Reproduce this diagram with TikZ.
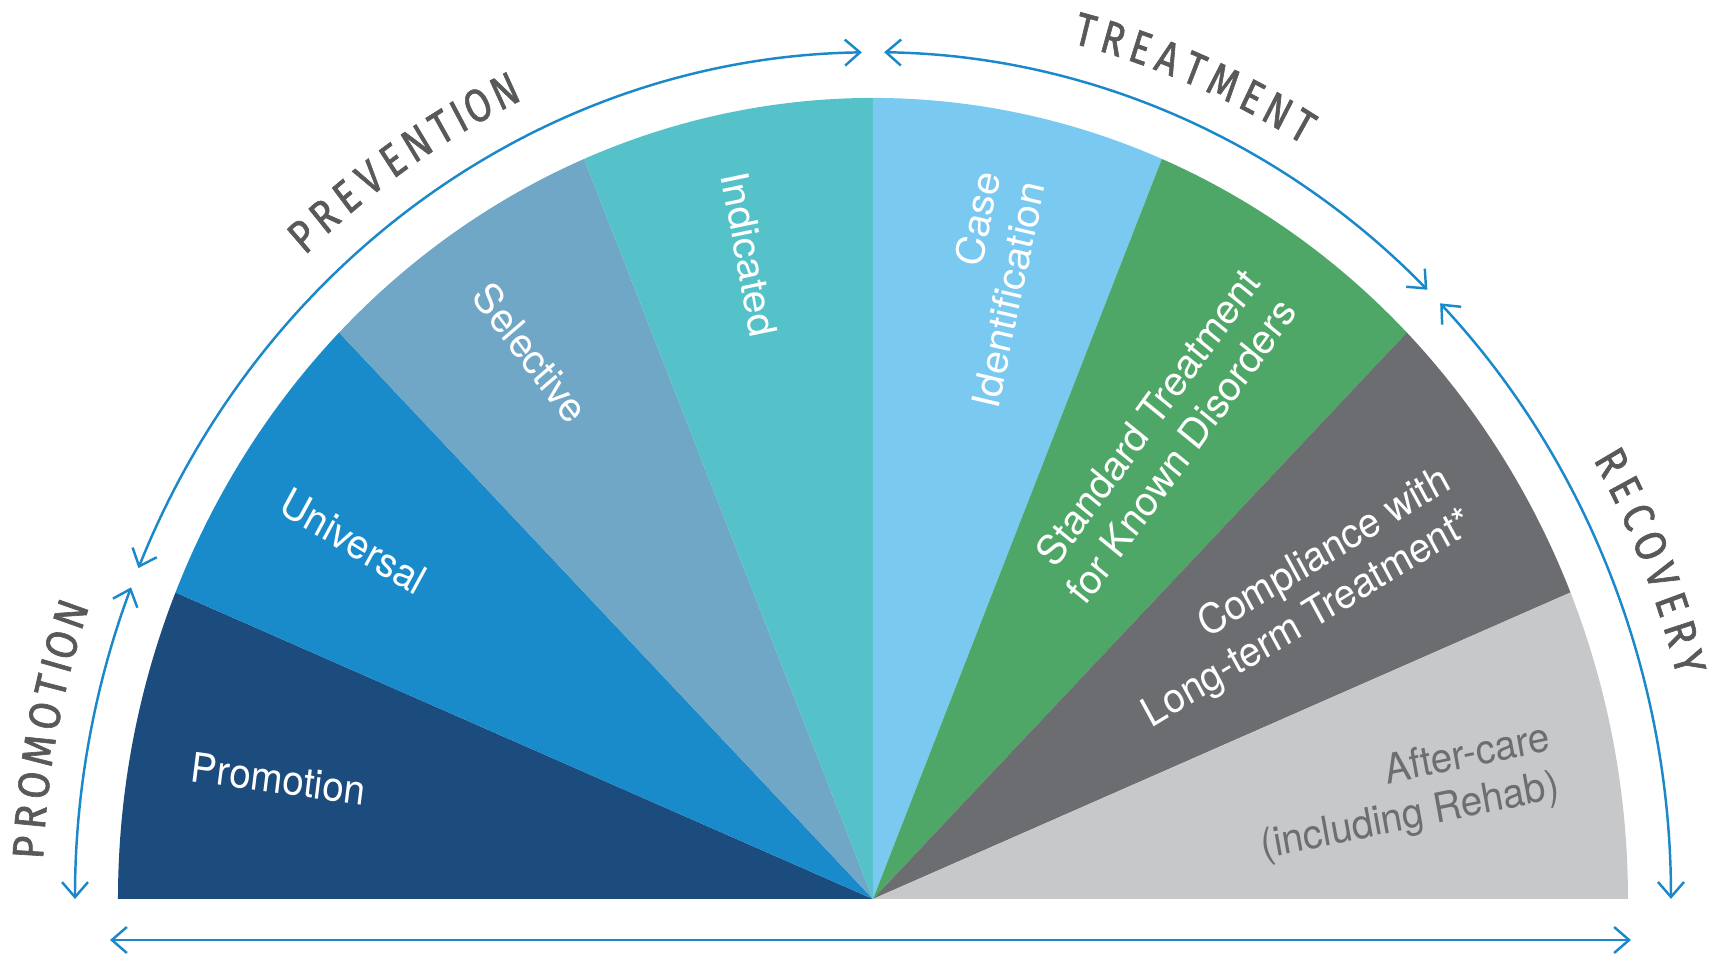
\documentclass[tikz,border=0pt]{standalone}
\usepackage{fontspec}
\setmainfont{TeX Gyre Heros}
\newfontfamily\capsfont[FakeStretch=0.85, FakeBold=1.4]{Fira Sans}
\usetikzlibrary{arrows.meta}
\definecolor{promoblue}{HTML}{1C4B7D}
\definecolor{univblue}{HTML}{1A8BCA}
\definecolor{selblue}{HTML}{70A7C6}
\definecolor{indteal}{HTML}{55C2CA}
\definecolor{caseblue}{HTML}{79C9F1}
\definecolor{stdgreen}{HTML}{4FA767}
\definecolor{compgray}{HTML}{6C6D70}
\definecolor{aftergray}{HTML}{C7C8CA}
\definecolor{aftertext}{HTML}{6D6E71}
\definecolor{arrowblue}{HTML}{1B88C9}
\definecolor{labelgray}{HTML}{58595B}
\tikzset{
    wedgetext/.style={font=\fontsize{11}{13}\selectfont, text=white, align=right, inner sep=0pt, transform shape},
    captext/.style={font=\capsfont\fontsize{12.5}{12.5}\selectfont, text=labelgray, inner sep=0pt, transform shape},
    bluearrow/.style={draw=arrowblue, line width=0.7pt, {Straight Barb[length=1.5mm,width=2.6mm]}-{Straight Barb[length=1.5mm,width=2.6mm]}}
}
\begin{document}
\begin{tikzpicture}[yscale=1.061]
        \useasboundingbox (-8.73,-0.5278) rectangle (8.46,8.473);
        \pgfmathsetmacro{\wedgeradius}{7.55}
        \pgfmathsetmacro{\arrowradius}{7.98}
        \pgfmathsetmacro{\capradius}{8.46}
        \pgfmathsetmacro{\capstep}{1.95}
        \foreach \ang/\col in {180/promoblue, 157.5/univblue, 135/selblue, 112.5/indteal, 90/caseblue, 67.5/stdgreen, 45/compgray, 22.5/aftergray}{
                \fill [\col] (0,0) -- (\ang:\wedgeradius) arc[start angle=\ang, delta angle=-22.5, radius=\wedgeradius] -- cycle;
            }
            \node [wedgetext, rotate=-7.5] (promotion) at (169.2:6.05) {Promotion};
            \node [wedgetext, rotate=-30] (universal) at (147:6.19) {Universal};
            \node [wedgetext, rotate=-51] (selective) at (123.6:6.18) {Selective};
            \node [wedgetext, rotate=-79] (indicated) at (101.5:6.2) {Indicated};
            \node [wedgetext, rotate=77.5] (caseid) at (78.9:5.855) {Case\\Identification};
            \node [wedgetext, rotate=52.5] (standard) at (56.4:5.24) {Standard Treatment\\for Known Disorders};
            \node [wedgetext, rotate=30] (compliance) at (33.7:5.1) {Compliance with\\Long-term Treatment*};
            \node [wedgetext, rotate=11, text=aftertext] (aftercare) at (10.5:5.42) {After-care\\(including Rehab)};
        \coordinate (promo-s) at (180:\arrowradius);
        \coordinate (promo-e) at (158.4:\arrowradius);
        \coordinate (prev-s) at (157:\arrowradius);
        \coordinate (prev-e) at (90.8:\arrowradius);
        \coordinate (treat-s) at (89.2:\arrowradius);
        \coordinate (treat-e) at (46:\arrowradius);
        \coordinate (recov-s) at (44.7:\arrowradius);
        \coordinate (recov-e) at (0:\arrowradius);
        \coordinate (base-l) at (-7.63,-0.3864);
        \coordinate (base-r) at (7.58,-0.3864);
        \draw [bluearrow] (promo-s) arc[start angle=180, end angle=158.4, radius=\arrowradius];
        \draw [bluearrow] (prev-s) arc[start angle=157, end angle=90.8, radius=\arrowradius];
        \draw [bluearrow] (treat-s) arc[start angle=89.2, end angle=46, radius=\arrowradius];
        \draw [bluearrow] (recov-s) arc[start angle=44.7, end angle=0, radius=\arrowradius];
        \draw [bluearrow] (base-l) -- (base-r);
        \foreach \ch/\k [count=\i] in {P/0, R/1, O/2.05, M/3.2, O/4.35, T/5.35, I/6.05, O/6.75, N/7.8}{
                \pgfmathsetmacro{\a}{169.1+7.8*\capstep/2-\k*\capstep}
                \node [captext, rotate=\a-90] (promolab\i) at (\a:\capradius) {\ch};
            }
        \foreach \ch/\k [count=\i] in {P/0, R/1, E/2, V/3, E/4, N/5, T/6, I/6.7, O/7.45, N/8.5}{
                \pgfmathsetmacro{\a}{124.1+8.5*\capstep/2-\k*\capstep}
                \node [captext, rotate=\a-90] (prevlab\i) at (\a:\capradius) {\ch};
            }
        \foreach \ch/\k [count=\i] in {T/0, R/1, E/2, A/3, T/4, M/5.1, E/6.2, N/7.2, T/8.2}{
                \pgfmathsetmacro{\a}{67.45+8.2*\capstep/2-\k*\capstep}
                \node [captext, rotate=\a-90] (treatlab\i) at (\a:\capradius) {\ch};
            }
        \foreach \ch/\k [count=\i] in {R/0, E/1, C/2, O/3.05, V/4.1, E/5.1, R/6.1, Y/7.1}{
                \pgfmathsetmacro{\a}{22.2+7.1*\capstep/2-\k*\capstep}
                \node [captext, rotate=\a-90] (recovlab\i) at (\a:\capradius) {\ch};
            }
    \end{tikzpicture}
\end{document}
